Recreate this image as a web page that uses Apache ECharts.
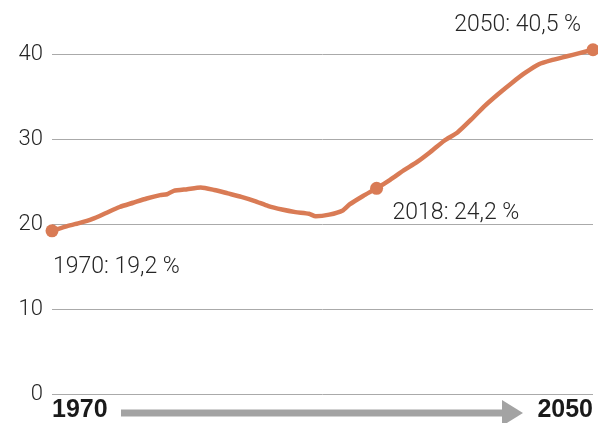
<!DOCTYPE html>
<html>
<head>
<meta charset="utf-8">
<script src="https://cdn.jsdelivr.net/npm/echarts@6.0.0/dist/echarts.min.js"></script>
<style>
  html, body { margin: 0; padding: 0; background: #ffffff; }
  #chart { width: 598px; height: 423px; }
</style>
</head>
<body>
<div id="chart"></div>
<script>
// Share of population (%) by year, historical and projected
const years = [
  1970, 1972, 1974, 1976, 1978, 1980, 1982, 1984, 1986, 1987, 1988, 1990,
  1992, 1994, 1996, 1998, 2000, 2002, 2004, 2006, 2008, 2009, 2011, 2013,
  2014, 2016, 2018, 2020, 2022, 2024, 2026, 2028, 2030, 2032, 2034, 2036,
  2038, 2040, 2042, 2044, 2046, 2048, 2050
];
const shares = [
  19.2, 19.7, 20.1, 20.6, 21.3, 22.0, 22.5, 23.0, 23.4, 23.5, 23.9, 24.1,
  24.3, 24.0, 23.6, 23.2, 22.7, 22.1, 21.7, 21.4, 21.2, 20.9, 21.1, 21.6,
  22.3, 23.3, 24.2, 25.2, 26.3, 27.3, 28.5, 29.8, 30.8, 32.3, 33.9, 35.3,
  36.6, 37.8, 38.8, 39.3, 39.7, 40.1, 40.5
];
// Years that get a dot and a callout
const highlightYears = [1970, 2018, 2050];
// Y axis ticks and the period end labels under the plot
const yTicks = [0, 10, 20, 30, 40];
const periodLabels = [1970, 2050];

const lineColor = '#d97b55';
const textFont = 'Roboto';
const textColor = '#262626';

const lineData = years.map((y, i) => [y, shares[i]]);

// Callout placement per highlighted year (shift from the dot centre)
const calloutStyle = {
  1970: { align: 'left',  offset: [1, 36] },
  2018: { align: 'left',  offset: [16, 25] },
  2050: { align: 'right', offset: [-12, -25] }
};

const fmt = v => String(v).replace('.', ',');

const highlightData = highlightYears.map(y => {
  const v = shares[years.indexOf(y)];
  const s = calloutStyle[y];
  return {
    value: [y, v],
    label: {
      show: true,
      position: 'inside',
      align: s.align,
      verticalAlign: 'middle',
      offset: s.offset,
      formatter: y + ': ' + fmt(v) + ' %'
    }
  };
});

const chart = echarts.init(document.getElementById('chart'), null, { renderer: 'canvas' });

chart.setOption({
  animation: false,
  backgroundColor: '#ffffff',
  grid: { left: 52, right: 5, top: 54, bottom: 29 },
  xAxis: {
    type: 'value',
    min: years[0],
    max: years[years.length - 1],
    splitLine: { show: false },
    axisLine: { show: false },
    axisTick: { show: false },
    axisLabel: {
      customValues: periodLabels,
      formatter: v => String(v),
      alignMinLabel: 'left',
      alignMaxLabel: 'right',
      margin: 4,
      fontFamily: '"Liberation Sans", Arial, sans-serif',
      fontWeight: 'bold',
      fontSize: 25,
      color: '#1a1a1a'
    }
  },
  yAxis: {
    type: 'value',
    min: yTicks[0],
    max: yTicks[yTicks.length - 1],
    interval: yTicks[1] - yTicks[0],
    axisLine: { show: false },
    axisTick: { show: false },
    axisLabel: {
      margin: 9,
      fontFamily: textFont,
      fontWeight: 300,
      fontSize: 22,
      color: textColor,
      padding: [5, 0, 0, 0]
    },
    splitLine: { lineStyle: { color: '#aaaaaa', width: 1 } }
  },
  series: [
    {
      type: 'line',
      data: lineData,
      smooth: 0.2,
      showSymbol: false,
      clip: false,
      lineStyle: { color: lineColor, width: 4.5 },
      z: 2
    },
    {
      type: 'scatter',
      data: highlightData,
      clip: false,
      symbol: 'circle',
      symbolSize: 13,
      itemStyle: { color: lineColor, opacity: 1 },
      label: {
        fontFamily: textFont,
        fontWeight: 300,
        fontSize: 23,
        color: textColor
      },
      z: 3
    }
  ],
  graphic: [
    {
      type: 'rect',
      shape: { x: 121, y: 409.5, width: 382, height: 7 },
      style: { fill: '#a3a3a3' }
    },
    {
      type: 'polygon',
      shape: { points: [[502, 400], [523, 413], [502, 426]] },
      style: { fill: '#a3a3a3' }
    }
  ]
});
</script>
</body>
</html>
